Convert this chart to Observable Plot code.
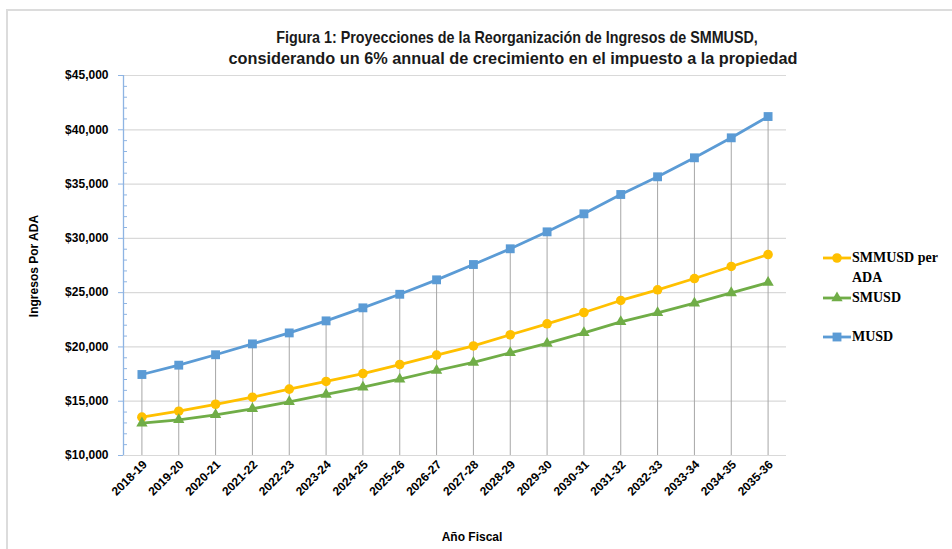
<!DOCTYPE html>
<html><head><meta charset="utf-8">
<script src="https://cdn.jsdelivr.net/npm/d3@7"></script>
<script src="https://cdn.jsdelivr.net/npm/@observablehq/plot@0.6"></script>
<style>
body{margin:0;background:#fff;}
#wrap{position:relative;width:952px;height:549px;overflow:hidden;font-family:"Liberation Sans",Arial,sans-serif;}
#frame{position:absolute;left:6px;top:9px;width:980px;height:580px;border:2px solid #dcdcdc;box-sizing:border-box;}
#chart{position:absolute;left:0;top:0;}
.tline{position:absolute;white-space:nowrap;font-family:"Liberation Sans",sans-serif;font-weight:bold;font-size:16.3px;line-height:21px;color:#1a1a1a;}
#t1{left:517px;top:27px;transform:translateX(-50%) scaleX(0.88);}
#t2{left:513px;top:48px;transform:translateX(-50%);}
#ytitle{position:absolute;left:34px;top:266px;transform:translate(-50%,-50%) rotate(-90deg);white-space:nowrap;font-weight:bold;font-size:12px;color:#000;}
#xtitle{position:absolute;left:472px;top:537px;transform:translate(-50%,-50%);white-space:nowrap;font-weight:bold;font-size:12px;color:#000;}
#legend{position:absolute;left:822px;top:248px;font-family:"Liberation Serif","DejaVu Serif",serif;font-weight:bold;font-size:14px;color:#000;}
.item{position:absolute;left:0;white-space:nowrap;line-height:20px;}
.item svg{position:absolute;left:0;top:3px;}
.item span{position:absolute;left:30px;top:0;}
</style>
</head><body>
<div id="wrap">
  <div id="frame"></div>
  <div id="chart"></div>
  <div id="t1" class="tline">Figura 1: Proyecciones de la Reorganización de Ingresos de SMMUSD,</div>
  <div id="t2" class="tline">considerando un 6% annual de crecimiento en el impuesto a la propiedad</div>
  <div id="ytitle">Ingresos Por ADA</div>
  <div id="xtitle">Año Fiscal</div>
  <div id="legend"></div>
</div>
<script>
const years = ["2018-19","2019-20","2020-21","2021-22","2022-23","2023-24","2024-25","2025-26","2026-27","2027-28","2028-29","2029-30","2030-31","2031-32","2032-33","2033-34","2034-35","2035-36"];
const smmusdPerAda = [13530,14080,14720,15370,16110,16820,17550,18380,19250,20090,21120,22130,23170,24280,25260,26300,27410,28510];
const smusd = [12980,13290,13750,14300,14950,15620,16290,17030,17830,18570,19460,20320,21300,22310,23140,24030,24980,25930];
const musd = [17460,18320,19280,20280,21290,22400,23600,24850,26180,27590,29040,30600,32260,34040,35670,37420,39260,41220];
const seriesNames = ["SMMUSD per ADA","SMUSD","MUSD"];
const yTicks = [10000,15000,20000,25000,30000,35000,40000,45000];

const colors = {"SMMUSD per ADA":"#ffc000","SMUSD":"#70ad47","MUSD":"#5b9bd5"};
const symbols = {"SMMUSD per ADA":"circle","SMUSD":"triangle","MUSD":"square"};
const radii = {"SMMUSD per ADA":4.8,"SMUSD":4.2,"MUSD":5};
const seriesValues = {"SMMUSD per ADA":smmusdPerAda,"SMUSD":smusd,"MUSD":musd};
const rows = seriesNames.flatMap(s => years.map((y,i)=>({series:s, year:y, value:seriesValues[s][i]})));
const musdRows = rows.filter(d=>d.series==="MUSD");
const minorTicks = d3.range(10000,45001,1000).filter(v=>v%5000!==0);

const W=952,H=549,mL=123,mR=166,mT=75,mB=94;
const step=(W-mL-mR)/years.length;
const axisBlue="#8eb4e3";

const marks = [
  Plot.ruleY(yTicks,{stroke:"#d9d9d9",strokeWidth:1.2}),
  Plot.ruleX(musdRows,{x:"year",y1:10000,y2:"value",stroke:"#a6a6a6",strokeWidth:1}),
  Plot.ruleX([years[0]],{dx:-step/2,y1:10000,y2:45000,stroke:axisBlue,strokeWidth:1.3}),
  Plot.axisY(yTicks,{tickSize:5,tickPadding:10,stroke:axisBlue,tickFormat:d=>"$"+d3.format(",")(d),label:null,fontSize:12}),
  Plot.axisY(minorTicks,{tickSize:4,dx:4,stroke:axisBlue,tickFormat:()=>"",label:null}),
  Plot.axisX({tickRotate:-45,tickSize:0,tickPadding:7,dx:3,label:null,fontSize:12})
];
for (const s of seriesNames) {
  const data = rows.filter(d=>d.series===s);
  marks.push(Plot.line(data,{x:"year",y:"value",stroke:colors[s],strokeWidth:2.8}));
  marks.push(Plot.dot(data,{x:"year",y:"value",symbol:()=>symbols[s],r:radii[s],fill:colors[s],stroke:"none"}));
}

const chart = Plot.plot({
  width:W,height:H,marginLeft:mL,marginRight:mR,marginTop:mT,marginBottom:mB,
  style:{fontFamily:"'Liberation Sans', Arial, sans-serif",fontWeight:"bold",fontSize:"12px",color:"#000",background:"transparent",overflow:"visible"},
  x:{type:"point",domain:years,padding:0.5,round:false},
  y:{domain:[10000,45000]},
  symbol:{type:"identity"},
  marks
});
document.getElementById("chart").appendChild(chart);

// legend
const legendLayout = [
  {name:"SMMUSD per ADA", label:"SMMUSD per<br>ADA", top:0},
  {name:"SMUSD", label:"SMUSD", top:40},
  {name:"MUSD", label:"MUSD", top:79}
];
const leg = document.getElementById("legend");
for (const e of legendLayout) {
  const div = document.createElement("div");
  div.className="item";
  div.style.top=e.top+"px";
  const c=colors[e.name];
  const sym = d3.symbol(d3["symbol"+symbols[e.name][0].toUpperCase()+symbols[e.name].slice(1)], Math.PI*radii[e.name]**2)();
  div.innerHTML = `<svg width="30" height="14"><line x1="1" x2="29" y1="7" y2="7" stroke="${c}" stroke-width="2.8"/><path transform="translate(15,7)" d="${sym}" fill="${c}"/></svg><span>${e.label}</span>`;
  leg.appendChild(div);
}
</script>
</body></html>
